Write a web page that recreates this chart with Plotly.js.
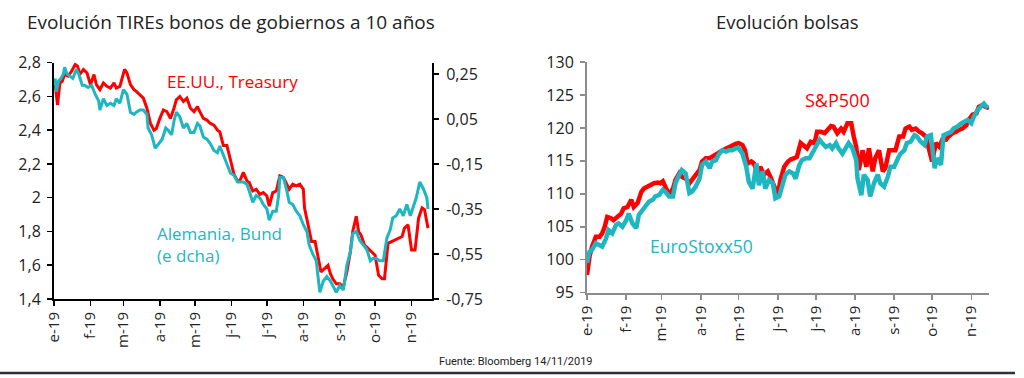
<!DOCTYPE html>
<html>
<head>
<meta charset="utf-8">
<script src="https://cdn.plot.ly/plotly-3.0.1.min.js"></script>
<style>
  html, body { margin: 0; padding: 0; background: #fff; }
  #chart { width: 1024px; height: 378px; }
</style>
</head>
<body>
<div id="chart"></div>
<script>
// ---- Data (days since 1 Jan 2019) ----
const monthStarts = [0, 31, 59, 90, 120, 151, 181, 212, 243, 273, 304];
const monthLabels = ["e-19", "f-19", "m-19", "a-19", "m-19", "j-19", "j-19", "a-19", "s-19", "o-19", "n-19"];

// US Treasury 10y yield (%), left axis
const usDays = [1,3,5,7,9,12,15,18,20,22,25,28,31,34,36,39,42,45,48,51,53,56,60,62,65,68,70,73,76,79,82,85,87,90,93,96,99,102,104,107,110,113,116,119,122,124,127,130,133,136,139,141,144,147,150,153,156,
  158,161,164,166,169,172,175,178,181,183,186,189,192,195,198,200,203,206,209,212,213,216,219,222,225,227,230,233,235,237,240,243,246,249,252,254,257,259,261,264,267,270,273,276,279,281,284,287,290,293,296,298,301,304,307,310,313,315,318];
const usYield = [2.67,2.55,2.68,2.69,2.73,2.72,2.75,2.79,2.78,2.73,2.76,2.74,2.67,2.73,2.67,2.64,2.68,2.66,2.65,2.68,2.65,2.66,2.76,2.74,2.67,2.64,2.63,2.61,2.59,2.53,2.44,2.40,2.41,2.47,2.52,2.51,2.47,2.53,2.58,2.60,2.57,2.59,2.53,2.51,2.54,2.51,2.47,2.46,2.44,2.43,2.40,2.39,2.31,2.31,2.22,2.14,2.10,
  2.10,2.15,2.10,2.09,2.04,2.05,2.02,2.03,2.01,1.95,2.03,2.04,2.13,2.12,2.08,2.05,2.08,2.07,2.08,2.05,1.94,1.84,1.74,1.74,1.64,1.56,1.58,1.60,1.55,1.52,1.49,1.49,1.47,1.56,1.68,1.80,1.89,1.80,1.78,1.72,1.70,1.68,1.66,1.54,1.52,1.52,1.73,1.74,1.75,1.76,1.77,1.82,1.84,1.69,1.69,1.88,1.94,1.93,1.82];

// German Bund 10y yield (%), right axis
const deDays = [1,2,4,6,8,9,11,14,16,19,21,24,26,29,32,35,38,39,42,45,48,51,53,56,59,62,65,68,70,73,76,79,80,83,86,89,92,95,97,100,102,104,107,110,113,116,119,122,124,127,130,133,136,139,141,144,147,150,153,156,
  161,164,166,169,172,175,178,181,183,186,189,191,192,195,198,200,203,206,209,212,215,217,220,223,226,229,232,235,237,240,243,246,249,252,254,257,260,263,266,269,271,274,277,280,283,286,288,291,294,297,300,303,305,308,311,314,317,318];
const deYield = [0.23,0.17,0.22,0.23,0.25,0.28,0.25,0.24,0.23,0.27,0.25,0.20,0.20,0.19,0.20,0.16,0.13,0.09,0.14,0.11,0.12,0.11,0.14,0.12,0.18,0.16,0.08,0.07,0.08,0.09,0.09,0.07,0.01,-0.02,-0.08,-0.06,-0.04,0.01,0.00,-0.02,0.04,0.08,0.06,0.01,0.03,-0.01,-0.01,0.03,0.02,-0.03,-0.04,-0.06,-0.09,-0.10,-0.07,-0.11,-0.15,-0.19,-0.20,-0.23,
  -0.23,-0.24,-0.27,-0.32,-0.29,-0.30,-0.33,-0.35,-0.40,-0.36,-0.36,-0.29,-0.21,-0.21,-0.27,-0.32,-0.33,-0.36,-0.38,-0.42,-0.45,-0.51,-0.55,-0.58,-0.72,-0.67,-0.65,-0.67,-0.69,-0.72,-0.69,-0.71,-0.60,-0.54,-0.46,-0.45,-0.49,-0.51,-0.53,-0.58,-0.57,-0.57,-0.58,-0.58,-0.48,-0.44,-0.39,-0.38,-0.35,-0.38,-0.33,-0.38,-0.35,-0.30,-0.23,-0.26,-0.30,-0.35];

// S&P500 (index, 31/12/2018 = 100)
const spxDays = [0,2,4,7,10,12,14,16,19,21,24,27,29,32,35,37,40,43,45,48,50,53,56,58,60,62,65,68,70,73,75,78,81,83,86,89,91,94,97,99,102,104,107,110,112,115,118,120,123,125,127,130,132,135,137,140,143,145,148,151,153,156,159,161,164,166,169,172,174,177,180,182,185,188,190,193,195,198,201,203,206,209,211,213,215,218,221,223,226,228,231,234,236,239,242,244,247,250,252,255,257,260,263,265,268,271,273,276,279,281,284,286,289,292,294,297,300,302,305,308,310,313,315,318];
const spxIdx = [97.7,100.5,102.0,103.5,103.5,104.0,105.0,106.5,106.3,106.0,106.5,107.0,107.8,108.0,109.1,108.0,108.6,110.3,110.8,111.1,111.3,111.6,111.7,111.6,111.9,111.1,109.8,110.8,112.1,113.1,112.6,112.3,111.6,112.1,112.9,113.6,114.9,115.4,115.4,115.6,115.9,116.2,116.6,116.9,117.1,117.4,117.6,117.7,117.4,116.6,114.6,114.9,114.6,113.1,114.1,112.9,113.4,112.6,111.3,109.8,112.1,114.1,114.9,115.2,115.4,115.6,117.7,117.1,116.9,117.9,117.7,119.4,119.4,119.2,119.7,120.3,120.2,119.2,119.9,119.4,120.7,120.7,118.7,117.1,113.6,116.6,114.1,116.9,113.4,115.4,116.6,113.4,113.9,116.6,116.6,116.6,118.7,118.7,119.9,120.2,119.7,119.9,119.4,119.2,118.7,116.6,114.9,117.7,117.1,118.2,118.2,118.7,119.2,119.4,119.7,119.9,120.4,121.2,122.0,122.2,123.2,123.5,123.2,123.0];

// EuroStoxx50 (index, 31/12/2018 = 100)
const sxDays = [0,2,4,7,10,12,15,17,20,23,25,28,31,33,36,39,41,44,46,49,52,54,57,60,62,65,68,70,73,75,78,81,83,86,89,91,94,97,99,102,104,107,110,112,115,118,120,123,126,128,131,134,136,139,141,144,147,149,152,155,157,160,163,165,168,170,173,176,178,181,184,186,189,192,194,197,199,202,205,207,210,213,214,217,219,222,224,227,230,232,235,238,240,243,246,248,251,253,256,259,261,264,267,269,272,275,277,280,282,285,288,290,293,296,298,301,304,306,309,311,314,317];
const sxIdx = [99.5,101.2,101.5,102.5,102.2,102.0,103.2,104.5,104.0,105.3,105.5,105.0,106.0,107.0,105.5,104.8,106.8,107.5,108.0,108.8,109.1,109.6,109.8,110.6,110.3,109.6,109.6,111.6,112.9,113.6,113.1,110.1,110.3,111.1,112.3,114.4,114.9,113.9,114.9,115.1,115.9,116.6,116.4,116.6,116.6,116.9,116.9,116.1,114.1,111.8,110.8,114.6,111.3,113.4,110.8,112.1,111.6,109.3,109.6,111.8,112.9,113.4,113.1,112.3,114.4,115.1,115.4,115.4,116.1,116.9,118.2,117.7,117.1,117.4,116.9,117.7,116.9,116.1,117.1,117.7,116.9,115.1,112.3,109.8,112.9,112.1,109.6,111.6,112.9,111.6,111.1,112.6,114.1,114.1,115.4,116.1,116.6,117.7,117.9,118.9,118.7,117.9,117.4,118.7,118.9,113.9,115.4,114.4,118.9,119.2,119.4,119.9,120.2,120.7,120.9,121.2,120.7,121.7,122.7,123.2,123.7,123.0];

const leftTicks = [1.4, 1.6, 1.8, 2.0, 2.2, 2.4, 2.6, 2.8];
const leftTickText = ["1,4", "1,6", "1,8", "2", "2,2", "2,4", "2,6", "2,8"];
const rightTicks = [-0.75, -0.55, -0.35, -0.15, 0.05, 0.25];
const rightTickText = ["-0,75", "-0,55", "-0,35", "-0,15", "0,05", "0,25"];
const stockTicks = [95, 100, 105, 110, 115, 120, 125, 130];

// ---- Styling ----
const RED = "#FF0000";
const TEAL = "#1DB6C1";
const FONT = "Open Sans, Noto Sans, sans-serif";
const W = 1024, H = 378;
const px = v => v / W;
const py = v => 1 - v / H;

const traces = [
  { x: usDays, y: usYield, xaxis: "x", yaxis: "y", type: "scatter", mode: "lines",
    line: { color: RED, width: 3 }, hoverinfo: "skip" },
  { x: deDays, y: deYield, xaxis: "x", yaxis: "y2", type: "scatter", mode: "lines",
    line: { color: TEAL, width: 3 }, hoverinfo: "skip" },
  { x: spxDays, y: spxIdx, xaxis: "x2", yaxis: "y3", type: "scatter", mode: "lines",
    line: { color: RED, width: 4.5 }, hoverinfo: "skip" },
  { x: sxDays, y: sxIdx, xaxis: "x2", yaxis: "y3", type: "scatter", mode: "lines",
    line: { color: TEAL, width: 4.5 }, hoverinfo: "skip" }
];

const blackAxis = {
  showline: true, linecolor: "#000", linewidth: 2, ticks: "outside", ticklen: 5,
  tickwidth: 1.5, tickcolor: "#000", showgrid: false, zeroline: false,
  tickfont: { family: FONT, size: 16, color: "#222" }, fixedrange: true
};
const grayAxis = Object.assign({}, blackAxis, { linecolor: "#8c8c8c", tickcolor: "#8c8c8c", linewidth: 2 });

const layout = {
  width: W, height: H,
  margin: { l: 0, r: 0, t: 0, b: 0 },
  paper_bgcolor: "#fff", plot_bgcolor: "rgba(0,0,0,0)",
  showlegend: false,
  xaxis: Object.assign({}, blackAxis, {
    domain: [px(54), px(432)], range: [0, 321.4], anchor: "y",
    tickvals: monthStarts, ticktext: monthLabels, tickangle: -90,
    tickfont: { family: FONT, size: 15, color: "#222" }
  }),
  yaxis: Object.assign({}, blackAxis, {
    domain: [py(299), py(62.7)], range: [1.4, 2.8], anchor: "x",
    tickvals: leftTicks, ticktext: leftTickText, ticklabelstandoff: 3
  }),
  yaxis2: Object.assign({}, blackAxis, {
    overlaying: "y", side: "right", anchor: "x", range: [-0.75, 0.30],
    tickvals: rightTicks, ticktext: rightTickText, ticklabelstandoff: 4
  }),
  xaxis2: Object.assign({}, grayAxis, {
    domain: [px(587), px(989)], range: [0, 318], anchor: "y3",
    tickvals: monthStarts, ticktext: monthLabels, tickangle: -90,
    tickfont: { family: FONT, size: 15, color: "#222" }
  }),
  yaxis3: Object.assign({}, grayAxis, {
    domain: [py(292.7), py(62)], range: [95, 130], anchor: "x2",
    tickvals: stockTicks, ticklabelstandoff: 3
  }),
  annotations: [
    { text: "Evolución TIREs bonos de gobiernos a 10 años", xref: "paper", yref: "paper",
      x: px(231), y: py(22), xanchor: "center", yanchor: "middle", showarrow: false,
      font: { family: FONT, size: 19, color: "#222" } },
    { text: "Evolución bolsas", xref: "paper", yref: "paper",
      x: px(787), y: py(22), xanchor: "center", yanchor: "middle", showarrow: false,
      font: { family: FONT, size: 18.5, color: "#222" } },
    { text: "EE.UU., Treasury", xref: "paper", yref: "paper",
      x: px(165), y: py(81), xanchor: "left", yanchor: "middle", showarrow: false,
      font: { family: FONT, size: 17, color: RED } },
    { text: "Alemania, Bund<br>(e dcha)", xref: "paper", yref: "paper",
      x: px(155), y: py(244), xanchor: "left", yanchor: "middle", align: "left", showarrow: false,
      font: { family: FONT, size: 17, color: TEAL } },
    { text: "S&P500", xref: "paper", yref: "paper",
      x: px(803), y: py(100), xanchor: "left", yanchor: "middle", showarrow: false,
      font: { family: FONT, size: 18, color: RED } },
    { text: "EuroStoxx50", xref: "paper", yref: "paper",
      x: px(648), y: py(246), xanchor: "left", yanchor: "middle", showarrow: false,
      font: { family: FONT, size: 17.5, color: TEAL } },
    { text: "Fuente: Bloomberg 14/11/2019", xref: "paper", yref: "paper",
      x: px(437), y: py(361), xanchor: "left", yanchor: "middle", showarrow: false,
      font: { family: "Liberation Sans Narrow, Arial Narrow, Roboto, sans-serif", size: 11, color: "#222" } }
  ],
  shapes: [
    { type: "line", xref: "paper", yref: "paper", x0: 0, x1: px(1015), y0: py(373), y1: py(373),
      line: { color: "#2c3039", width: 2.5 } }
  ]
};

Plotly.newPlot("chart", traces, layout, { staticPlot: true, displayModeBar: false });
</script>
</body>
</html>
